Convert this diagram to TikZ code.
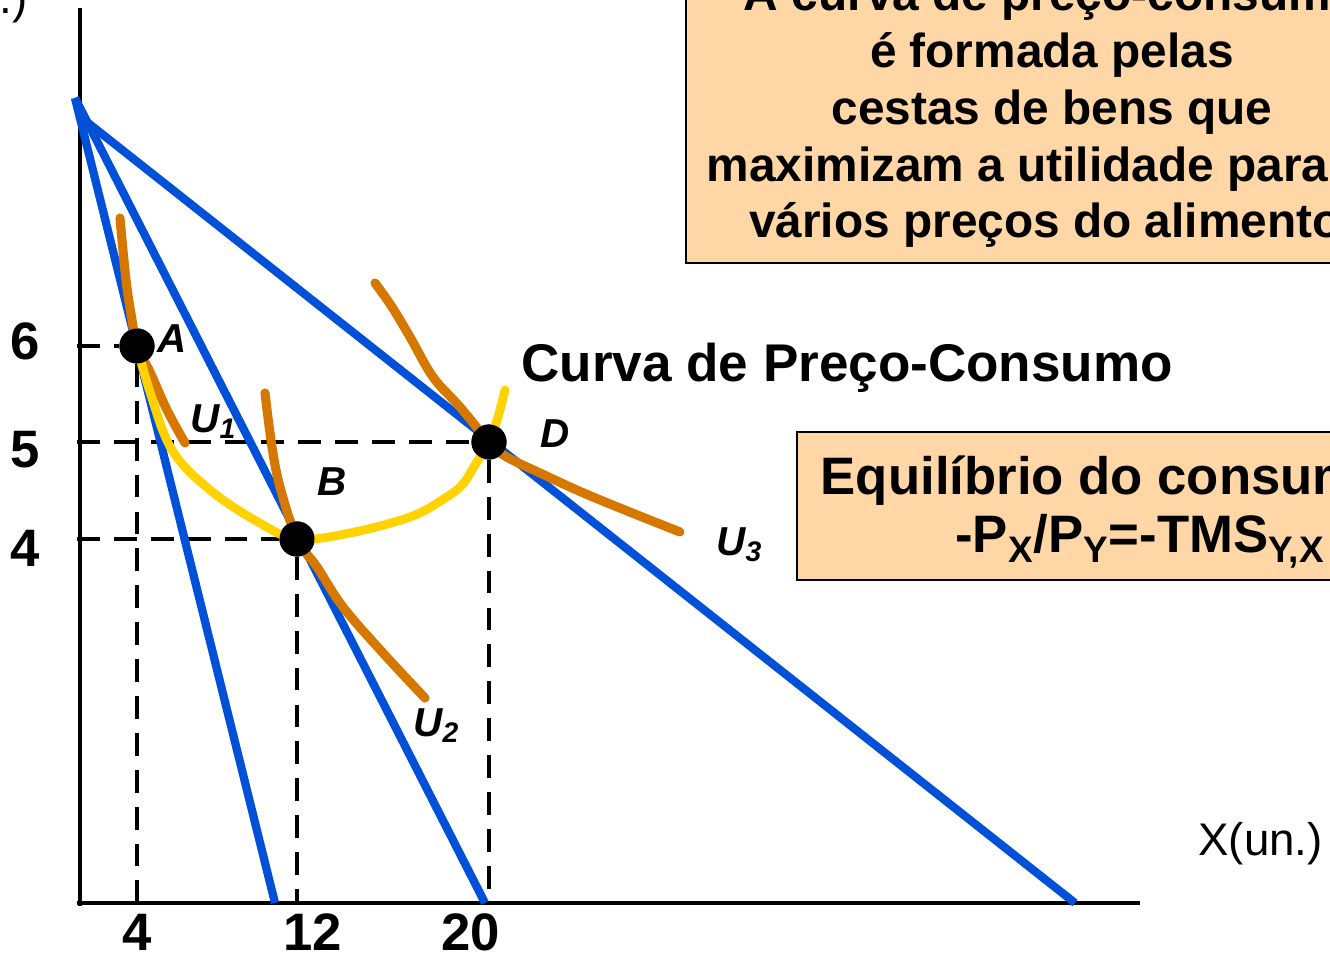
\documentclass[tikz,border=0pt]{standalone}
\usepackage{fontspec}
\setmainfont{Liberation Sans}
\usetikzlibrary{positioning,calc}

\definecolor{budget}{RGB}{0,80,216}
\definecolor{indiff}{RGB}{214,120,0}
\definecolor{pcc}{RGB}{255,210,0}
\definecolor{peach}{RGB}{255,214,165}

\begin{document}
\begin{tikzpicture}[
  x=0.02cm, y=-0.02cm,
  axis/.style={line width=2.8pt},
  budgetline/.style={draw=budget, line width=4.7pt},
  ucurve/.style={draw=indiff, line width=5.2pt, line cap=round},
  pccurve/.style={draw=pcc, line width=5pt, line cap=round},
  guide/.style={line width=2.6pt, dash pattern=on 13pt off 8pt},
  bundle/.style={circle, fill=black, inner sep=0pt, minimum size=20pt},
  tick/.style={inner sep=0pt, font=\fontsize{30}{32}\selectfont\bfseries},
  ptlabel/.style={inner sep=0pt, anchor=base west,
                  font=\fontsize{23}{26}\selectfont\bfseries\itshape},
  unitlabel/.style={inner sep=0pt, font=\fontsize{26}{30}\selectfont},
  infobox/.style={draw, line width=1.6pt, fill=peach},
  infotext/.style={align=center, inner sep=0pt,
                   font=\fontsize{27.2}{32.3}\selectfont\bfseries}
]
  \useasboundingbox (0,0) rectangle (1330,953);
  \clip (0,0) rectangle (1330,953);

  % Text boxes
  \draw[infobox] (686,-20) rectangle (1400,263);
  \node[infotext] (note) at (1052,112)
    {A curva de preço-consumo\\é formada pelas\\cestas de bens que\\
     maximizam a utilidade para os\\vários preços do alimento.};
  \draw[infobox] (797,432) rectangle (1400,580);
  \node[infotext, font=\fontsize{30}{32.3}\selectfont\bfseries] (equil)
    at (1140,512)
    {Equilíbrio do consumidor\\[0.5pt]
     -P\textsubscript{X}/P\textsubscript{Y}=-TMS\textsubscript{Y,X}};

  % Axes
  \coordinate (origin) at (80,903);
  \coordinate (ytop) at (80,8);
  \coordinate (xend) at (1140,903);
  \draw[axis] (ytop) -- (80,905.5) (77,903) -- (xend);
  \node[unitlabel, anchor=base east] (ylab) at (28,14) {Y(un.)};
  \node[unitlabel, anchor=base west] (xlab) at (1198,855) {X(un.)};

  % Bundles
  \node[bundle] (A) at (137,346) {};
  \node[bundle] (B) at (297,539) {};
  \node[bundle] (D) at (489,442) {};

  % Guides to the axes
  \coordinate (y6) at (77,346);
  \coordinate (y5) at (77,442);
  \coordinate (y4) at (77,539);
  \coordinate (x4) at (137,903);
  \coordinate (x12) at (297,903);
  \coordinate (x20) at (489,903);
  \draw[guide] (y6) -- (A) (A) -- (x4);
  \draw[guide] (y5) -- (D) (D) -- (x20);
  \draw[guide] (y4) -- (B) (B) -- (x12);

  % Budget lines
  \coordinate (k1) at (75,98);
  \coordinate (k3) at (78,115);
  \coordinate (e1) at (275,903);
  \coordinate (e2) at (485,903);
  \coordinate (e3) at (1075,903);
  \draw[budgetline] (k1) -- (e1);
  \draw[budgetline] (k1) -- (e2);
  \draw[budgetline] (k3) -- (e3);

  % Indifference curves
  \draw[ucurve] plot[smooth, tension=0.6] coordinates
    {(120,218) (126,280) (132,320) (137,346) (150,372) (167,410) (185,443)};
  \draw[ucurve] plot[smooth, tension=0.6] coordinates
    {(265,393) (272,447) (280,487) (297,539) (317,567) (343,607) (383,653)
     (425,698)};
  \draw[ucurve] plot[smooth, tension=0.6] coordinates
    {(375,283) (392,307) (410,337) (433,377) (460,407) (489,442) (505,456)
     (540,473) (593,497) (680,532)};

  % Price-consumption curve
  \draw[pccurve] plot[smooth, tension=0.6] coordinates
    {(137,346) (150,392) (172,450) (210,490) (258,522) (297,539)
     (350,533) (410,517) (442,500) (462,485) (475,465)
     (489,442) (498,417) (505,390)};

  % Bundles again on top
  \fill (A) circle (17.5);
  \fill (B) circle (17.5);
  \fill (D) circle (17.5);

  % Labels
  \node[ptlabel] (labA) at (157,352) {A};
  \node[ptlabel] (labB) at (317,495) {B};
  \node[ptlabel] (labD) at (540,447) {D};
  \node[ptlabel] (labU1) at (190,432) {U\textsubscript{1}};
  \node[ptlabel] (labU2) at (413,736) {U\textsubscript{2}};
  \node[ptlabel] (labU3) at (716,555) {U\textsubscript{3}};
  \node[inner sep=0pt, anchor=base west,
        font=\fontsize{30.2}{32}\selectfont\bfseries] (pcclab) at (521,381)
    {Curva de Preço-Consumo};

  % Tick values
  \node[tick] (t6) at (25,341) {6};
  \node[tick] (t5) at (25,450) {5};
  \node[tick] (t4) at (25,548) {4};
  \node[tick] (s4) at (137,932) {4};
  \node[tick] (s12) at (313,932) {12};
  \node[tick] (s20) at (471,932) {20};
\end{tikzpicture}
\end{document}
